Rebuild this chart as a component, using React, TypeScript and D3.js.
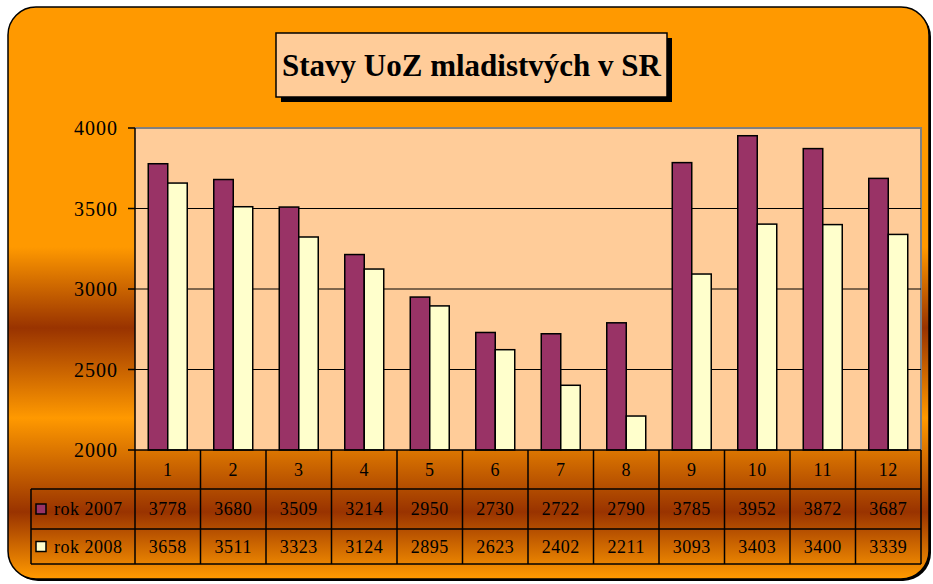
import React from "react";
import * as d3 from "d3";

const months = ["1", "2", "3", "4", "5", "6", "7", "8", "9", "10", "11", "12"];
const rok2007 = [3778, 3680, 3509, 3214, 2950, 2730, 2722, 2790, 3785, 3952, 3872, 3687];
const rok2008 = [3658, 3511, 3323, 3124, 2895, 2623, 2402, 2211, 3093, 3403, 3400, 3339];
const seriesNames = ["rok 2007", "rok 2008"];
const seriesColors = ["#993366", "#FFFFCC"];
const yTicks = [2000, 2500, 3000, 3500, 4000];
const title = "Stavy UoZ mladistvých v SR";

const W = 933, H = 584;
const plot = { left: 135, right: 921, top: 128, bottom: 450 };
const rows = [450, 489, 529, 564];
const tableLeft = 31;
const serif = "'Liberation Serif', 'Times New Roman', serif";

export default function App() {
    const x = d3.scaleBand().domain(months).range([plot.left, plot.right]).padding(0);
    const xs = d3.scaleBand().domain(seriesNames).range([0, x.bandwidth()]).paddingInner(0).paddingOuter(0.68);
    const y = d3.scaleLinear().domain([2000, 4000]).range([plot.bottom, plot.top]);
    const data = [rok2007, rok2008];

    const cols = months.map((m) => x(m));
    cols.push(plot.right);

    return (
        <svg width={W} height={H} style={{ position: "absolute", left: 0, top: 0 }}>
            <defs>
                <linearGradient id="bg" gradientUnits="userSpaceOnUse" x1="0" y1="0" x2="0" y2={H}>
                    <stop offset={247 / H} stopColor="#FF9900" />
                    <stop offset={328 / H} stopColor="#993300" />
                    <stop offset={418 / H} stopColor="#FF9900" />
                    <stop offset={512 / H} stopColor="#993300" />
                    <stop offset={578 / H} stopColor="#FF9900" />
                </linearGradient>
            </defs>
            <rect x={10} y={9} width={921} height={572} rx={28} fill="#000" />
            <rect x={8} y={7} width={921} height={572} rx={28} fill="url(#bg)" stroke="#000" strokeWidth={1.5} />

            {/* title */}
            <rect x={281} y={38} width={391} height={64} fill="#000" />
            <rect x={276} y={33} width={391} height={64} fill="#FFCC99" stroke="#000" strokeWidth={1.5} />
            <text x={471.5} y={76} textAnchor="middle" fontFamily={serif} fontWeight="bold" fontSize={31} fill="#000">{title}</text>

            {/* plot area */}
            <rect x={plot.left} y={plot.top} width={plot.right - plot.left} height={plot.bottom - plot.top} fill="#FFCC99" />
            <path d={`M${plot.left},${plot.top}H${plot.right}V${plot.bottom}`} fill="none" stroke="#808080" strokeWidth={2} />
            {yTicks.slice(1, -1).map((t) => (
                <line key={t} x1={plot.left} x2={plot.right} y1={y(t)} y2={y(t)} stroke="#000" strokeWidth={1.2} />
            ))}

            {data.map((vals, si) => months.map((m, i) => (
                <rect key={si + "-" + m}
                    x={(x(m) as number) + (xs(seriesNames[si]) as number)}
                    y={y(vals[i])}
                    width={xs.bandwidth()}
                    height={plot.bottom - y(vals[i])}
                    fill={seriesColors[si]} stroke="#000" strokeWidth={1.5} />
            )))}

            {/* y axis */}
            <line x1={plot.left} x2={plot.left} y1={plot.top} y2={plot.bottom} stroke="#000" strokeWidth={1.5} />
            {yTicks.map((t) => (
                <g key={t}>
                    <line x1={plot.left - 7} x2={plot.left} y1={y(t)} y2={y(t)} stroke="#000" strokeWidth={1.5} />
                    <text x={118} y={y(t) + 7} textAnchor="end" fontFamily={serif} fontSize={20} letterSpacing={1} fill="#000">{t}</text>
                </g>
            ))}

            {/* data table */}
            <g fill="none" stroke="#000" strokeWidth={1.5}>
                <line x1={plot.left} x2={plot.right} y1={rows[0]} y2={rows[0]} />
                <line x1={tableLeft} x2={plot.right} y1={rows[1]} y2={rows[1]} />
                <line x1={tableLeft} x2={plot.right} y1={rows[2]} y2={rows[2]} />
                <line x1={tableLeft} x2={plot.right} y1={rows[3]} y2={rows[3]} />
                <line x1={tableLeft} x2={tableLeft} y1={rows[1]} y2={rows[3]} />
                {cols.map((c, i) => (
                    <line key={i} x1={c} x2={c} y1={rows[0]} y2={rows[3]} />
                ))}
            </g>
            {months.map((m) => (
                <text key={m} x={(x(m) as number) + x.bandwidth() / 2} y={476} textAnchor="middle"
                    fontFamily={serif} fontSize={18} letterSpacing={0.5} fill="#000">{m}</text>
            ))}
            {data.map((vals, si) => (
                <g key={si}>
                    <rect x={36} y={(rows[si + 1] + rows[si + 2]) / 2 - 5} width={10} height={10}
                        fill={seriesColors[si]} stroke="#000" strokeWidth={1.5} />
                    <text x={54} y={(rows[si + 1] + rows[si + 2]) / 2 + 6} fontFamily={serif} fontSize={18}
                        letterSpacing={0.5} fill="#000">{seriesNames[si]}</text>
                    {months.map((m, i) => (
                        <text key={m} x={(x(m) as number) + x.bandwidth() / 2} y={(rows[si + 1] + rows[si + 2]) / 2 + 6}
                            textAnchor="middle" fontFamily={serif} fontSize={18} letterSpacing={0.5} fill="#000">{vals[i]}</text>
                    ))}
                </g>
            ))}
        </svg>
    );
}
